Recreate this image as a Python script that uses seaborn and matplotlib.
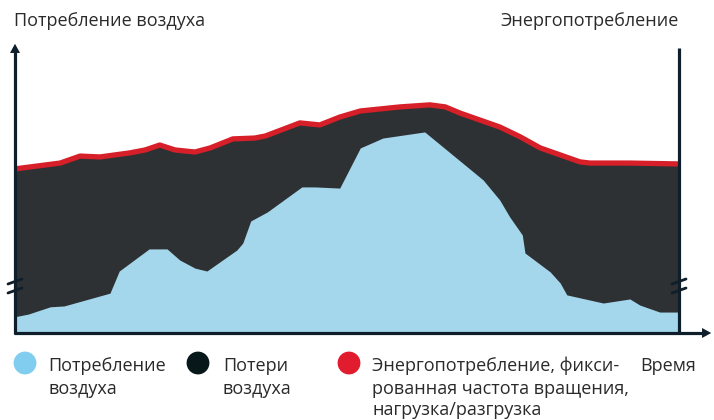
import matplotlib
matplotlib.use("Agg")
import matplotlib.pyplot as plt
import seaborn as sns
import pandas as pd

# air consumption (light blue area), time in % of period, value in % of axis height
air_t = [0, 2.0, 5.3, 7.4, 14.3, 15.7, 20.2, 22.9, 24.8, 27.1, 28.9, 33.4, 34.3, 35.5,
         38.0, 43.2, 45.2, 48.9, 52.0, 55.4, 61.7, 70.5, 73.0, 74.5, 76.4, 76.8, 80.6,
         82.1, 83.1, 88.6, 92.6, 94.1, 97.1, 100]
air_v = [5.6, 6.5, 9.0, 9.3, 13.7, 21.3, 28.9, 28.9, 25.1, 22.3, 21.3, 28.5, 30.9, 38.5,
         41.6, 50.2, 50.2, 49.8, 63.6, 67.0, 69.1, 52.6, 45.7, 39.9, 33.7, 27.5, 21.0,
         17.2, 13.1, 10.3, 11.7, 9.6, 7.2, 7.2]

# energy consumption, fixed speed load/unload (red line, top of dark area)
energy_t = [0, 6.8, 9.8, 12.8, 17.3, 19.6, 21.8, 24.1, 27.1, 29.4, 32.8, 36.1, 37.7,
            42.9, 45.9, 48.9, 52.0, 58.0, 62.5, 64.8, 67.0, 73.0, 76.1, 79.1, 85.1,
            86.6, 92.6, 100]
energy_v = [56.4, 58.4, 60.8, 60.5, 61.9, 62.9, 64.6, 62.9, 62.2, 63.6, 66.7, 67.0, 67.7,
            72.2, 71.5, 74.2, 76.3, 77.7, 78.4, 77.7, 75.6, 70.8, 67.4, 63.6, 58.8,
            58.4, 58.4, 58.1]

legend_labels = [["Потребление", "воздуха"],
                 ["Потери", "воздуха"],
                 ["Энергопотребление, фикси-", "рованная частота вращения,", "нагрузка/разгрузка"]]
legend_colors = ["#80cdf0", "#08181a", "#e01c2e"]

blue = "#a4d6ec"
dark = "#2e3133"
red = "#d71f29"
axis_col = "#0e1f2b"
txt_col = "#2a2a2a"
fs = 13

sns.set_theme(style="white")
plt.rcParams["font.family"] = ["Open Sans", "DejaVu Sans"]

fig = plt.figure(figsize=(7.14, 4.2), dpi=100)
ax = fig.add_axes([15 / 714, 87 / 420, 664 / 714, 291 / 420])

air = pd.DataFrame({"t": air_t, "v": air_v})
energy = pd.DataFrame({"t": energy_t, "v": energy_v})

# dark "losses" area: everything under the energy line, then blue on top of it
ax.fill_between(energy["t"], 0, energy["v"], color=dark, lw=0, zorder=1)
ax.fill_between(air["t"], 0, air["v"], color=blue, lw=0, zorder=2)
sns.lineplot(data=energy, x="t", y="v", ax=ax, color=red, lw=3.8, zorder=3,
             solid_capstyle="butt", solid_joinstyle="round")

ax.set_xlim(0, 100)
ax.set_ylim(0, 100)
ax.set_axis_off()

# overlay in pixel coordinates for axis arrows, break marks and texts
ov = fig.add_axes([0, 0, 1, 1], zorder=5)
ov.set_xlim(0, 714)
ov.set_ylim(420, 0)
ov.set_axis_off()
ov.patch.set_alpha(0)

ov.plot([15, 15], [334, 48], color=axis_col, lw=2.3, solid_capstyle="butt")
ov.annotate("", xy=(15, 41), xytext=(15, 52),
            arrowprops=dict(arrowstyle="-|>,head_length=0.55,head_width=0.3",
                            color=axis_col, lw=0))
ov.plot([13.5, 706], [333, 333], color=axis_col, lw=2.3, solid_capstyle="butt")
ov.annotate("", xy=(714, 333), xytext=(703, 333),
            arrowprops=dict(arrowstyle="-|>,head_length=0.55,head_width=0.3",
                            color=axis_col, lw=0))
ov.plot([679, 679], [334, 48], color=axis_col, lw=2.3, solid_capstyle="butt")

# axis break marks
for x0 in (8, 672):
    ov.plot([x0, x0 + 14], [284, 279], color=axis_col, lw=2)
    ov.plot([x0, x0 + 14], [293, 288], color=axis_col, lw=2)

ov.text(14, 26, "Потребление воздуха", fontsize=fs, color=txt_col, va="baseline", ha="left")
ov.text(679, 26, "Энергопотребление", fontsize=fs, color=txt_col, va="baseline", ha="right")

# legend
baselines = [371, 393.5, 415]
for cx, tx, lines, col in zip([25, 198, 349], [48, 223, 372], legend_labels, legend_colors):
    ov.scatter([cx], [363], s=270, color=col, edgecolor="none")
    for line, by in zip(lines, baselines):
        ov.text(tx, by, line, fontsize=fs, color=txt_col, va="baseline", ha="left")
ov.text(640, 371, "Время", fontsize=fs, color=txt_col, va="baseline", ha="left")

fig.savefig("out.png", dpi=100, facecolor="white")
